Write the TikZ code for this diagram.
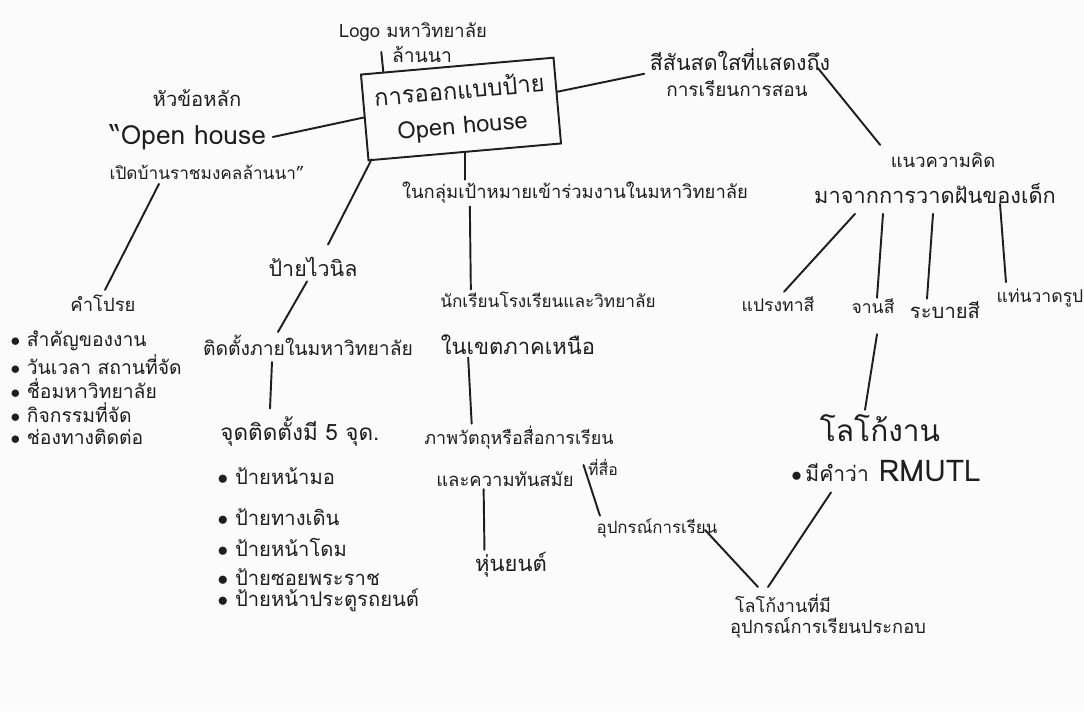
\documentclass[tikz,border=0pt]{standalone}
\usepackage{fontspec}
\setmainfont[Script=Thai]{Loma}
\usetikzlibrary{calc}
\definecolor{ink}{RGB}{30,30,30}

\begin{document}
\begin{tikzpicture}[
    x=0.02cm, y=-0.02cm,
    line width=1.1pt,
    link/.style={draw=ink, line cap=round},
    fs/.style={font=\fontsize{#1}{#1}\selectfont},
    word/.style={inner sep=1pt, text=ink, fs=12}
]
\useasboundingbox[fill=gray!3] (0,0) rectangle (1084,711);

% --- centre ---
\node[draw=ink, rotate=5, minimum width=110pt, minimum height=49pt,
      align=center, word, font=\fontsize{13.5}{20}\selectfont] (box) at (461,109)
      {การออกแบบป้าย\\Open house};

% --- logo ---
\node[word, fs=10.5] (logoa) at (413,32) {Logo มหาวิทยาลัย};
\node[word, fs=11] (logob) at (422,54) {ล้านนา};
\draw[link] ($(box.north west)!0.12!(box.north east)$) -- ($(logob.west)+(-8,-2)$);

% --- colours / concept ---
\node[word, fs=12.2] (colour1) at (740,60) {สีสันสดใสที่แสดงถึง};
\node[word, fs=10.8] (colour2) at (737,89) {การเรียนการสอน};
\draw[link] ($(box.north east)!0.4!(box.south east)$) -- ($(colour1.south west)+(-3,0)$);

\node[word, fs=10.5] (concept1) at (943,160) {แนวความคิด};
\node[word, fs=12.4] (concept2) at (935,193) {มาจากการวาดฝันของเด็ก};
\draw[link] ($(colour1.east)+(-15,8)$) -- ($(concept1.north west)+(-8,-5)$);

\node[word, fs=10] (brush) at (778,304) {แปรงทาสี};
\node[word, fs=10] (palette) at (873,306) {จานสี};
\node[word, fs=11.5] (fill) at (945,310) {ระบายสี};
\node[word, fs=10] (easel) at (1040,298) {แท่นวาดรูป};
\draw[link] ($(concept2.south)+(-80,8)$) -- ($(brush.north)+(6,-2)$);
\draw[link] ($(concept2.south)+(-52,8)$) -- ($(palette.north)+(4,2)$);
\draw[link] ($(concept2.south)+(-2,8)$) -- ($(fill.north)+(-18,0)$);
\draw[link] ($(concept2.south)+(65,-2)$) -- ($(easel.north west)+(12,-4)$);

\node[word, fs=17] (logowork1) at (880,428) {โลโก้งาน};
\node[word, fs=17] (logowork2) at (886,471) {{\fontsize{12}{14}\selectfont$\bullet$\,มีคำว่า} RMUTL};
\draw[link] ($(palette.south)+(4,18)$) -- ($(logowork1.north)+(-15,-2)$);

\node[word, fs=10.2] (final1) at (783,603) {โลโก้งานที่มี};
\node[word, fs=10.4] (final2) at (828,628) {อุปกรณ์การเรียนประกอบ};
\draw[link] ($(logowork2.south)+(-55,8)$) -- ($(final1.north)+(-15,-4)$);

% --- target group ---
\node[word, fs=10.5] (target) at (575,193) {ในกลุ่มเป้าหมายเข้าร่วมงานในมหาวิทยาลัย};
\draw[link] (box.south) -- (box.south |- target.north);

\node[word, fs=9.8] (students1) at (548,300) {นักเรียนโรงเรียนและวิทยาลัย};
\node[word, fs=12.5] (students2) at (518,345) {ในเขตภาคเหนือ};
\draw[link] ($(box.south |- target.south)+(5,0)$) -- ($(box.south |- students1.north)+(6,0)$);

\node[word, fs=10.2] (media1) at (519,438) {ภาพวัตถุหรือสื่อการเรียน};
\node[word, fs=10.5] (media2) at (505,479) {และความทันสมัย};
\node[word, fs=9] (media3) at (603,467) {ที่สื่อ};
\draw[link] ($(students2.south west)+(30,0)$) -- ($(media1.north west)+(50,0)$);

\node[word, fs=12.5] (robot) at (511,565) {หุ่นยนต์};
\node[word, fs=9.6] (tools) at (657,528) {อุปกรณ์การเรียน};
\draw[link] ($(media2.south west)+(50,0)$) -- ($(robot.north west)+(12,0)$);
\draw[link] ($(media3.west)+(-2,-2)$) -- ($(tools.north west)+(6,0)$);
\draw[link] ($(tools.east)+(-15,2)$) -- ($(final1.north)+(-25,-4)$);

% --- headline / tagline ---
\node[word, fs=11.5] (headline) at (197,98) {หัวข้อหลัก};
\node[word, fs=15] (openh) at (188,137) {``Open house};
\node[word, fs=9.8] (opn2) at (207,172) {เปิดบ้านราชมงคลล้านนา''};
\draw[link] (box.west) -- ($(openh.east)+(4,0)$);

\node[word, fs=10.5] (tagline) at (103,303) {คำโปรย};
\draw[link] ($(opn2.south west)+(52,2)$) -- ($(tagline.north)+(2,-2)$);
\foreach \t [count=\i] in {สำคัญของงาน, วันเวลา สถานที่จัด, ชื่อมหาวิทยาลัย,
                           กิจกรรมที่จัด, ช่องทางติดต่อ}
  \node[word, fs=11, anchor=west] (tag\i) at (8,317+24*\i) {$\bullet$\ \t};

% --- vinyl signs ---
\node[word, fs=12.2] (vinyl) at (313,267) {ป้ายไวนิล};
\draw[link] ($(box.south west)+(4,-2)$) -- ($(vinyl.north)+(15,-10)$);

\node[word, fs=11] (install) at (308,345) {ติดตั้งภายในมหาวิทยาลัย};
\draw[link] ($(vinyl.south)+(-6,2)$) -- ($(install.north)+(-30,0)$);

\node[word, fs=12.8] (spots) at (300,432) {จุดติดตั้งมี 5 จุด.};
\draw[link] ($(install.south)+(-36,4)$) -- ($(spots.north)+(-30,-6)$);
\foreach \y/\t [count=\i] in {476/ป้ายหน้ามอ, 517/ป้ายทางเดิน, 547/ป้ายหน้าโดม,
                              577/ป้ายซอยพระราช, 600/ป้ายหน้าประตูรถยนต์}
  \node[word, fs=11.5, anchor=west] (spot\i) at (215,\y) {$\bullet$\ \t};
\end{tikzpicture}
\end{document}
